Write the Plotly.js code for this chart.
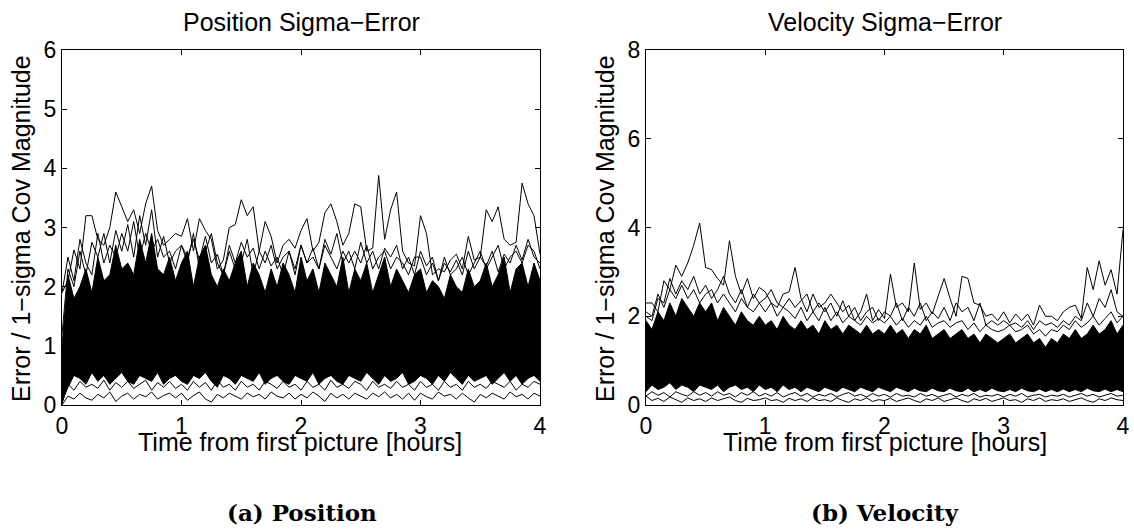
<!DOCTYPE html>
<html>
<head>
<meta charset="utf-8">
<script src="https://cdn.plot.ly/plotly-3.0.1.min.js"></script>
<style>
  html, body { margin: 0; padding: 0; background: #ffffff; }
  #chart { width: 1134px; height: 530px; }
</style>
</head>
<body>
<div id="chart"></div>
<script>
// Time grid [hours]
const timeHours = [
  0.00, 0.05, 0.10, 0.15, 0.20, 0.25, 0.30, 0.35, 0.40, 0.45,
  0.50, 0.55, 0.60, 0.65, 0.70, 0.75, 0.80, 0.85, 0.90, 0.95,
  1.00, 1.05, 1.10, 1.15, 1.20, 1.25, 1.30, 1.35, 1.40, 1.45,
  1.50, 1.55, 1.60, 1.65, 1.70, 1.75, 1.80, 1.85, 1.90, 1.95,
  2.00, 2.05, 2.10, 2.15, 2.20, 2.25, 2.30, 2.35, 2.40, 2.45,
  2.50, 2.55, 2.60, 2.65, 2.70, 2.75, 2.80, 2.85, 2.90, 2.95,
  3.00, 3.05, 3.10, 3.15, 3.20, 3.25, 3.30, 3.35, 3.40, 3.45,
  3.50, 3.55, 3.60, 3.65, 3.70, 3.75, 3.80, 3.85, 3.90, 3.95,
  4.00
];

// ---- Position sigma-error: ensemble envelopes ----
const posMax = [
  1.9, 2.1, 2.62, 2.3, 3.2, 3.2, 2.8, 2.7, 3.0, 3.6,
  3.35, 3.1, 3.3, 2.9, 3.4, 3.7, 2.95, 2.7, 2.8, 2.9,
  2.85, 3.15, 2.6, 3.15, 2.95, 2.8, 2.3, 2.45, 3.0, 3.05,
  3.47, 3.2, 3.35, 2.6, 3.1, 2.85, 2.4, 2.7, 2.8, 2.65,
  2.95, 3.15, 2.6, 2.75, 3.25, 3.4, 3.1, 2.7, 2.9, 3.4,
  3.35, 2.6, 2.65, 3.88, 2.8, 3.3, 3.6, 2.6, 2.4, 2.35,
  3.2, 2.9, 2.2, 2.3, 2.25, 2.45, 2.55, 2.3, 2.85, 2.45,
  2.5, 3.3, 3.1, 3.35, 2.8, 2.7, 2.75, 3.75, 3.4, 3.2,
  2.55
];
const posMid = [
  1.2, 2.3, 2.0, 2.6, 2.2, 2.75, 2.5, 2.9, 2.4, 2.95,
  2.6, 3.05, 2.5, 3.2, 2.7, 3.3, 2.5, 2.85, 2.4, 2.6,
  2.7, 2.5, 2.8, 2.45, 2.85, 2.4, 2.55, 2.2, 2.7, 2.4,
  2.75, 2.5, 2.65, 2.3, 2.6, 2.35, 2.5, 2.2, 2.6, 2.3,
  2.7, 2.4, 2.65, 2.3, 2.8, 2.55, 2.9, 2.4, 2.6, 2.3,
  2.75, 2.4, 2.6, 2.3, 2.65, 2.5, 2.7, 2.3, 2.5, 2.2,
  2.6, 2.35, 2.5, 2.1, 2.4, 2.25, 2.45, 2.2, 2.6, 2.3,
  2.5, 2.35, 2.6, 2.25, 2.55, 2.4, 2.7, 2.45, 2.8, 2.5,
  2.4
];
const posUpper2 = [
  1.9, 2.5, 2.1, 2.8, 2.4, 2.2, 2.9, 2.4, 2.7, 2.5,
  2.9, 2.6, 3.1, 2.5, 2.9, 2.6, 2.8, 2.5, 2.6, 2.3,
  2.7, 2.4, 2.9, 2.3, 2.6, 2.9, 2.4, 2.2, 2.6, 2.3,
  2.4, 2.8, 2.2, 2.6, 2.4, 2.7, 2.3, 2.5, 2.6, 2.2,
  2.7, 2.4, 2.5, 2.3, 2.7, 2.5, 2.3, 2.6, 2.4, 2.6,
  2.4, 2.7, 2.3, 2.5, 2.6, 2.3, 2.5, 2.4, 2.2, 2.5,
  2.5, 2.2, 2.4, 2.1, 2.5, 2.2, 2.3, 2.5, 2.2, 2.4,
  2.6, 2.3, 2.5, 2.7, 2.3, 2.5, 2.6, 2.4, 2.7, 2.6,
  2.3
];
const posHigh = [
  1.0, 2.2, 1.8, 2.0, 2.3, 1.9, 2.5, 2.1, 2.2, 2.7,
  2.3, 2.4, 2.2, 2.8, 2.4, 2.9, 2.3, 2.2, 2.5, 2.1,
  2.4, 2.6, 2.0, 2.5, 2.7, 2.2, 2.0, 2.3, 2.1, 2.4,
  2.6, 2.0, 2.4, 2.2, 1.9, 2.3, 2.0, 2.4, 2.2, 1.9,
  2.5, 2.1, 2.3, 1.9, 2.4, 2.2, 2.0, 2.5, 1.9, 2.3,
  2.1, 2.4, 1.9, 2.2, 2.5, 2.0, 2.3, 2.1, 1.9, 2.2,
  2.3, 1.9, 2.1, 2.0, 1.8, 2.2, 2.0, 1.9, 2.3, 2.0,
  2.1, 2.4, 2.0, 2.2, 2.5, 1.9, 2.3, 2.4, 2.0, 2.4,
  2.1
];
const posLow = [
  0.05, 0.3, 0.5, 0.45, 0.35, 0.55, 0.4, 0.5, 0.35, 0.45,
  0.55, 0.4, 0.35, 0.5, 0.45, 0.4, 0.55, 0.35, 0.45, 0.5,
  0.4, 0.35, 0.5, 0.45, 0.55, 0.4, 0.3, 0.5, 0.45, 0.35,
  0.5, 0.45, 0.4, 0.55, 0.35, 0.45, 0.5, 0.4, 0.35, 0.5,
  0.45, 0.4, 0.55, 0.35, 0.45, 0.5, 0.4, 0.35, 0.5, 0.45,
  0.4, 0.55, 0.45, 0.35, 0.5, 0.4, 0.45, 0.55, 0.35, 0.4,
  0.5, 0.45, 0.35, 0.5, 0.4, 0.55, 0.45, 0.35, 0.5, 0.4,
  0.45, 0.5, 0.35, 0.45, 0.55, 0.4, 0.5, 0.35, 0.45, 0.5,
  0.4
];
const posLower2 = [
  0.02, 0.35, 0.25, 0.4, 0.3, 0.35, 0.28, 0.42, 0.25, 0.38,
  0.3, 0.4, 0.28, 0.35, 0.42, 0.25, 0.38, 0.3, 0.4, 0.28,
  0.35, 0.25, 0.4, 0.3, 0.38, 0.25, 0.42, 0.3, 0.35, 0.25,
  0.4, 0.3, 0.35, 0.25, 0.4, 0.35, 0.28, 0.4, 0.3, 0.35,
  0.25, 0.4, 0.3, 0.35, 0.25, 0.42, 0.3, 0.35, 0.28, 0.4,
  0.35, 0.25, 0.4, 0.3, 0.35, 0.28, 0.4, 0.3, 0.35, 0.25,
  0.4, 0.3, 0.35, 0.25, 0.4, 0.3, 0.35, 0.25, 0.4, 0.3,
  0.35, 0.28, 0.4, 0.35, 0.3, 0.4, 0.25, 0.35, 0.3, 0.4,
  0.35
];
const posMin = [
  0.0, 0.15, 0.1, 0.2, 0.12, 0.08, 0.18, 0.12, 0.22, 0.06,
  0.15, 0.2, 0.1, 0.18, 0.14, 0.22, 0.1, 0.16, 0.2, 0.12,
  0.2, 0.08, 0.16, 0.22, 0.1, 0.05, 0.18, 0.12, 0.2, 0.15,
  0.1, 0.2, 0.14, 0.18, 0.1, 0.22, 0.15, 0.12, 0.2, 0.1,
  0.18, 0.12, 0.22, 0.15, 0.06, 0.2, 0.12, 0.18, 0.1, 0.2,
  0.15, 0.1, 0.2, 0.14, 0.22, 0.12, 0.18, 0.1, 0.2, 0.08,
  0.2, 0.14, 0.1, 0.22, 0.15, 0.18, 0.1, 0.2, 0.12, 0.05,
  0.18, 0.12, 0.2, 0.15, 0.1, 0.22, 0.14, 0.18, 0.1, 0.2,
  0.15
];

// ---- Velocity sigma-error: ensemble envelopes ----
const velMax = [
  2.3, 2.3, 2.1, 2.8, 2.6, 3.15, 2.9, 3.2, 3.6, 4.1,
  3.1, 3.05, 2.85, 2.7, 3.7, 2.9, 2.5, 2.85, 2.4, 2.65,
  2.55, 2.3, 2.2, 2.5, 2.55, 3.1, 2.4, 2.1, 2.5, 2.2,
  2.3, 2.5, 2.3, 2.1, 2.25, 1.9, 2.1, 2.5, 1.9, 2.15,
  1.95, 2.95, 2.2, 2.3, 2.1, 3.2, 2.15, 2.3, 2.05, 2.45,
  2.85, 2.4, 2.0, 2.9, 2.85, 2.3, 2.25, 2.0, 2.05, 1.9,
  2.1, 1.85, 2.05, 1.9, 2.05, 1.8, 2.25, 2.0, 2.0, 1.9,
  2.1, 2.2, 2.25, 1.95, 3.1, 2.6, 3.25, 2.7, 3.05, 2.5,
  3.95
];
const velMid = [
  2.0, 1.9, 2.4, 2.3, 2.85, 2.5, 2.8, 2.6, 2.9, 2.5,
  2.7, 2.4, 2.6, 2.9, 2.5, 2.3, 2.6, 2.2, 2.5, 2.3,
  2.4, 2.6, 2.3, 2.2, 2.4, 2.2, 2.35, 2.5, 2.1, 2.3,
  2.1, 2.3, 2.0, 2.35, 2.0, 2.2, 1.9, 2.1, 2.2, 1.9,
  2.1, 2.0, 2.3, 1.9, 2.2, 2.0, 2.3, 1.9, 2.1, 1.95,
  2.2, 1.9, 2.3, 2.1, 2.2, 1.9, 2.3, 1.8, 1.9, 1.8,
  1.9, 1.8, 1.85, 1.75, 1.9, 1.7, 1.9, 1.8, 1.85, 1.75,
  1.9, 1.8, 2.0, 1.9, 2.3, 2.0, 2.4, 2.2, 2.6, 2.1,
  2.0
];
const velUpper2 = [
  2.1, 2.0, 2.5, 2.2, 2.6, 2.4, 2.7, 2.4, 2.6, 2.3,
  2.5, 2.6, 2.3, 2.5, 2.3, 2.1, 2.4, 2.2, 2.1, 2.3,
  2.1, 2.3, 2.0, 2.2, 2.1, 1.95, 2.2, 1.9, 2.1, 1.9,
  2.2, 1.9, 2.1, 1.85, 2.0, 1.9, 1.8, 2.0, 1.85, 1.95,
  1.85, 2.0, 1.8, 1.95, 1.75, 1.9, 1.8, 2.0, 1.75, 1.85,
  1.9, 1.75, 1.85, 1.9, 1.7, 1.85, 1.65, 1.8, 1.7, 1.65,
  1.7, 1.8, 1.65, 1.7, 1.8, 1.6, 1.7, 1.55, 1.7, 1.65,
  1.8, 1.7, 1.9, 1.75, 1.85, 2.0, 1.8, 1.95, 2.1, 1.85,
  2.0
];
const velHigh = [
  1.9, 1.7, 2.1, 1.9, 2.3, 2.0, 2.4, 2.2, 2.0, 2.3,
  2.1, 2.3, 1.9, 2.2, 2.0, 1.8, 2.1, 1.9, 1.8, 2.0,
  1.8, 1.9, 1.7, 2.0, 1.8, 1.7, 1.9, 1.7, 1.8, 1.6,
  1.9, 1.7, 1.8, 1.6, 1.8, 1.7, 1.6, 1.8, 1.6, 1.7,
  1.6, 1.8, 1.6, 1.7, 1.5, 1.7, 1.6, 1.8, 1.5, 1.6,
  1.7, 1.5, 1.6, 1.7, 1.5, 1.6, 1.4, 1.6, 1.5, 1.4,
  1.5, 1.6, 1.4, 1.5, 1.6, 1.4, 1.5, 1.3, 1.5, 1.4,
  1.6, 1.5, 1.7, 1.5, 1.6, 1.8, 1.6, 1.7, 1.9, 1.6,
  1.8
];
const velLow = [
  0.3, 0.45, 0.35, 0.4, 0.5, 0.35, 0.45, 0.4, 0.3, 0.45,
  0.4, 0.35, 0.45, 0.3, 0.4, 0.45, 0.35, 0.4, 0.3, 0.45,
  0.35, 0.4, 0.3, 0.45, 0.35, 0.4, 0.3, 0.4, 0.35, 0.3,
  0.4, 0.35, 0.3, 0.4, 0.35, 0.3, 0.4, 0.35, 0.3, 0.4,
  0.35, 0.3, 0.4, 0.35, 0.3, 0.38, 0.32, 0.3, 0.38, 0.32,
  0.3, 0.38, 0.32, 0.3, 0.38, 0.3, 0.35, 0.3, 0.38, 0.32,
  0.3, 0.35, 0.3, 0.38, 0.32, 0.3, 0.36, 0.3, 0.35, 0.3,
  0.36, 0.3, 0.35, 0.3, 0.38, 0.32, 0.3, 0.36, 0.3, 0.35,
  0.3
];
const velLower2 = [
  0.2, 0.3, 0.22, 0.28, 0.18, 0.3, 0.24, 0.2, 0.3, 0.22,
  0.28, 0.2, 0.3, 0.22, 0.26, 0.18, 0.28, 0.22, 0.3, 0.2,
  0.26, 0.2, 0.28, 0.18, 0.24, 0.28, 0.2, 0.26, 0.18, 0.24,
  0.2, 0.26, 0.18, 0.24, 0.28, 0.2, 0.24, 0.18, 0.26, 0.2,
  0.24, 0.18, 0.26, 0.2, 0.22, 0.18, 0.26, 0.2, 0.24, 0.18,
  0.22, 0.26, 0.18, 0.24, 0.2, 0.26, 0.18, 0.22, 0.2, 0.24,
  0.18, 0.24, 0.2, 0.26, 0.18, 0.22, 0.24, 0.18, 0.22, 0.2,
  0.24, 0.18, 0.22, 0.26, 0.2, 0.24, 0.18, 0.22, 0.26, 0.2,
  0.22
];
const velMin = [
  0.2, 0.1, 0.15, 0.08, 0.18, 0.12, 0.06, 0.16, 0.1, 0.14,
  0.08, 0.16, 0.1, 0.14, 0.18, 0.1, 0.06, 0.15, 0.1, 0.12,
  0.16, 0.1, 0.12, 0.06, 0.15, 0.1, 0.14, 0.08, 0.16, 0.1,
  0.12, 0.08, 0.16, 0.1, 0.06, 0.14, 0.1, 0.16, 0.08, 0.12,
  0.1, 0.15, 0.08, 0.12, 0.16, 0.1, 0.06, 0.14, 0.1, 0.16,
  0.08, 0.12, 0.16, 0.1, 0.06, 0.14, 0.1, 0.15, 0.08, 0.12,
  0.16, 0.1, 0.12, 0.06, 0.14, 0.1, 0.16, 0.08, 0.12, 0.1,
  0.14, 0.08, 0.12, 0.16, 0.1, 0.06, 0.14, 0.1, 0.16, 0.12,
  0.1
];

// Axis ticks
const xTicks = [0, 1, 2, 3, 4];
const posYTicks = [0, 1, 2, 3, 4, 5, 6];
const velYTicks = [0, 2, 4, 6, 8];

const FONT = "Liberation Sans, Arial, Helvetica, sans-serif";
const SERIF = "DejaVu Serif, Liberation Serif, serif";

function lineTrace(x, y, xa, ya, fill) {
  const t = {
    x: x, y: y, xaxis: xa, yaxis: ya, type: "scatter", mode: "lines",
    line: { color: "#000000", width: 1 }, hoverinfo: "skip", showlegend: false
  };
  if (fill) { t.fill = "tonexty"; t.fillcolor = "#000000"; }
  return t;
}

const data = [
  lineTrace(timeHours, posLow, "x", "y"),
  lineTrace(timeHours, posHigh, "x", "y", true),
  lineTrace(timeHours, posUpper2, "x", "y"),
  lineTrace(timeHours, posMid, "x", "y"),
  lineTrace(timeHours, posMax, "x", "y"),
  lineTrace(timeHours, posLower2, "x", "y"),
  lineTrace(timeHours, posMin, "x", "y"),
  lineTrace(timeHours, velLow, "x2", "y2"),
  lineTrace(timeHours, velHigh, "x2", "y2", true),
  lineTrace(timeHours, velUpper2, "x2", "y2"),
  lineTrace(timeHours, velMid, "x2", "y2"),
  lineTrace(timeHours, velMax, "x2", "y2"),
  lineTrace(timeHours, velLower2, "x2", "y2"),
  lineTrace(timeHours, velMin, "x2", "y2")
];

const W = 1134, H = 530;
const L1 = 62, R1 = 540, L2 = 646, R2 = 1123, TOP = 50, BOT = 405;

function axisBase() {
  return {
    showgrid: false, zeroline: false, showline: true, linecolor: "#000000", linewidth: 1,
    mirror: "ticks", ticks: "inside", ticklen: 5, tickcolor: "#000000", tickwidth: 1,
    tickfont: { family: FONT, size: 23, color: "#000000" }, fixedrange: true
  };
}

const layout = {
  width: W, height: H,
  margin: { l: 0, r: 0, t: 0, b: 0 },
  paper_bgcolor: "#ffffff", plot_bgcolor: "#ffffff",
  showlegend: false,
  xaxis: Object.assign(axisBase(), { domain: [L1 / W, R1 / W], range: [0, 4], tickvals: xTicks, anchor: "y" }),
  yaxis: Object.assign(axisBase(), { domain: [1 - BOT / H, 1 - TOP / H], range: [0, 6], tickvals: posYTicks, anchor: "x" }),
  xaxis2: Object.assign(axisBase(), { domain: [L2 / W, R2 / W], range: [0, 4], tickvals: xTicks, anchor: "y2" }),
  yaxis2: Object.assign(axisBase(), { domain: [1 - BOT / H, 1 - TOP / H], range: [0, 8], tickvals: velYTicks, anchor: "x2" }),
  annotations: [
    { text: "Position Sigma\u2212Error", x: 301 / W, y: 1 - 22 / H, xref: "paper", yref: "paper",
      showarrow: false, xanchor: "center", yanchor: "middle", font: { family: FONT, size: 25, color: "#000" } },
    { text: "Velocity Sigma\u2212Error", x: 885 / W, y: 1 - 22 / H, xref: "paper", yref: "paper",
      showarrow: false, xanchor: "center", yanchor: "middle", font: { family: FONT, size: 25, color: "#000" } },
    { text: "Time from first picture [hours]", x: 300 / W, y: 1 - 442 / H, xref: "paper", yref: "paper",
      showarrow: false, xanchor: "center", yanchor: "middle", font: { family: FONT, size: 25, color: "#000" } },
    { text: "Time from first picture [hours]", x: 885 / W, y: 1 - 442 / H, xref: "paper", yref: "paper",
      showarrow: false, xanchor: "center", yanchor: "middle", font: { family: FONT, size: 25, color: "#000" } },
    { text: "Error / 1\u2212sigma Cov Magnitude", x: 21 / W, y: 1 - 229 / H, xref: "paper", yref: "paper",
      showarrow: false, xanchor: "center", yanchor: "middle", textangle: -90, font: { family: FONT, size: 25, color: "#000" } },
    { text: "Error / 1\u2212sigma Cov Magnitude", x: 605 / W, y: 1 - 229 / H, xref: "paper", yref: "paper",
      showarrow: false, xanchor: "center", yanchor: "middle", textangle: -90, font: { family: FONT, size: 25, color: "#000" } },
    { text: "<b>(a) Position</b>", x: 302 / W, y: 1 - 512 / H, xref: "paper", yref: "paper",
      showarrow: false, xanchor: "center", yanchor: "middle", font: { family: SERIF, size: 23, color: "#000" } },
    { text: "<b>(b) Velocity</b>", x: 885 / W, y: 1 - 512 / H, xref: "paper", yref: "paper",
      showarrow: false, xanchor: "center", yanchor: "middle", font: { family: SERIF, size: 23, color: "#000" } }
  ]
};

Plotly.newPlot("chart", data, layout, { staticPlot: true, displayModeBar: false });
</script>
</body>
</html>
